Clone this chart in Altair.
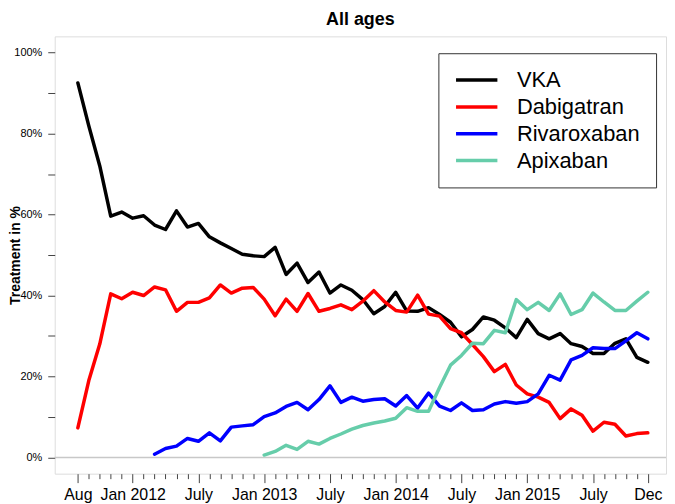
import altair as alt
import pandas as pd

# month index 0 = Aug 2011 ... 52 = Dec 2015
major_ticks = [0, 5, 11, 17, 23, 29, 35, 41, 47, 52]
major_labels = ["Aug", "Jan 2012", "July", "Jan 2013", "July", "Jan 2014",
                "July", "Jan 2015", "July", "Dec"]

vka = [92.5, 81.9, 72.0, 59.6, 60.6, 59.1, 59.7, 57.4, 56.3, 60.9,
       56.9, 57.8, 54.5, 53.0, 51.6, 50.2, 49.8, 49.6, 51.9, 45.2,
       48.0, 43.2, 45.8, 40.6, 42.6, 41.3, 39.0, 35.5, 37.3, 40.8,
       36.2, 36.1, 37.0, 35.3, 33.4, 29.8, 31.6, 34.7, 33.9, 32.0,
       29.6, 34.1, 30.6, 29.3, 30.6, 28.1, 27.4, 25.7, 25.7, 28.2,
       29.3, 24.7, 23.5]
dabigatran = [7.3, 19.0, 28.0, 40.4, 39.2, 40.8, 40.0, 42.1, 41.4, 36.1,
              38.3, 38.3, 39.4, 42.6, 40.6, 41.8, 42.0, 39.1, 35.0, 39.1,
              36.1, 40.5, 36.1, 36.8, 37.7, 36.5, 38.6, 41.2, 38.4, 36.3,
              35.9, 40.1, 35.4, 34.9, 31.8, 30.8, 27.9, 24.9, 21.2, 23.0,
              17.9, 15.7, 14.9, 13.6, 9.6, 12.0, 10.4, 6.5, 8.7, 8.2,
              5.3, 5.9, 6.1]
riva_start = 7
rivaroxaban = [0.8, 2.2, 2.8, 4.7, 4.0, 6.1, 4.1, 7.5, 7.8, 8.1,
               10.1, 11.0, 12.6, 13.6, 11.8, 14.3, 17.7, 13.6, 14.9, 13.9,
               14.3, 14.5, 12.7, 15.3, 12.2, 15.9, 12.7, 11.6, 13.5, 11.6,
               11.8, 13.2, 13.8, 13.4, 13.8, 15.7, 20.3, 19.1, 24.1, 25.2,
               27.1, 26.9, 26.9, 28.8, 30.8, 29.3]
apix_start = 17
apixaban = [0.6, 1.5, 3.0, 2.0, 4.0, 3.3, 4.7, 5.8, 7.0, 7.9,
            8.5, 9.0, 9.7, 12.3, 11.4, 11.4, 17.3, 22.8, 25.2, 28.2,
            28.1, 31.4, 30.8, 39.0, 36.5, 38.3, 36.3, 40.4, 35.3, 36.5,
            40.6, 38.4, 36.3, 36.3, 38.6, 40.8]

series_names = ["VKA", "Dabigatran", "Rivaroxaban", "Apixaban"]
series_colors = ["#000000", "#FF0000", "#0000FF", "#66CDAA"]

rows = []
for name, start, vals in [("VKA", 0, vka), ("Dabigatran", 0, dabigatran),
                          ("Rivaroxaban", riva_start, rivaroxaban),
                          ("Apixaban", apix_start, apixaban)]:
    for i, v in enumerate(vals):
        rows.append({"m": start + i, "value": v, "drug": name})
df = pd.DataFrame(rows)

n_months = 53
label_arr = [""] * n_months
for t, l in zip(major_ticks, major_labels):
    label_arr[t] = l
label_expr = "[" + ",".join("'%s'" % l for l in label_arr) + "][datum.value]"

FONT = "Liberation Sans"

xscale = alt.Scale(domain=[-2.11, 53.66], nice=False, zero=False)
yscale = alt.Scale(domain=[-4, 104], nice=False, zero=False)

xaxis = alt.Axis(
    values=list(range(n_months)), labelExpr=label_expr, labelOverlap=False,
    labelFlush=False, labelFontSize=16, labelFont=FONT, labelColor="black",
    labelPadding=4, domain=False, grid=False, title=None,
    tickColor="#444", tickWidth=1,
    tickSize={"condition": {"test": "indexof(%s, datum.value) >= 0" % major_ticks,
                            "value": 9}, "value": 5},
)
yaxis = alt.Axis(
    values=list(range(0, 101, 10)),
    labelExpr="datum.value % 20 == 0 ? datum.value + '%' : ''",
    labelFontSize=11, labelFont=FONT, labelColor="black", labelPadding=6,
    tickSize=7, tickColor="#444", tickWidth=1, domain=False, grid=False,
    title="Treatment in %", titleFontSize=14, titleFontWeight="bold",
    titleFont=FONT, titleColor="black", titleX=-39, titleY=220,
    titleBaseline="middle",
)

zero_rule = alt.Chart(pd.DataFrame({"y": [0]})).mark_rule(
    color="#c8c8c8", strokeWidth=1.5
).encode(y=alt.Y("y:Q", scale=yscale, axis=yaxis))

lines = alt.Chart(df).mark_line(
    strokeWidth=3.5, strokeCap="round", strokeJoin="round"
).encode(
    x=alt.X("m:Q", scale=xscale, axis=xaxis),
    y=alt.Y("value:Q", scale=yscale, axis=yaxis),
    color=alt.Color(
        "drug:N",
        scale=alt.Scale(domain=series_names, range=series_colors),
        sort=series_names,
        legend=alt.Legend(
            title=None, orient="none", legendX=386, legendY=17,
            symbolType="M-1,0H3.5", symbolSize=342, symbolStrokeWidth=3.5,
            labelFontSize=22, labelFont=FONT, labelColor="black",
            rowPadding=5, padding=16, strokeColor="#333", fillColor="white",
            labelOffset=41,
        ),
    ),
    order=alt.Order("m:Q"),
)

chart = alt.layer(zero_rule, lines).properties(
    width=615, height=440,
    title=alt.Title("All ages", fontSize=18, fontWeight="bold", font=FONT,
                    color="black", anchor="middle", offset=7),
    autosize=alt.AutoSizeParams(type="none"),
    padding={"left": 47, "top": 27, "right": 1, "bottom": 29},
).configure_view(stroke="#333", strokeWidth=1).configure(background="white")

chart.save("out.html", embed_options={"renderer": "svg", "actions": False})
